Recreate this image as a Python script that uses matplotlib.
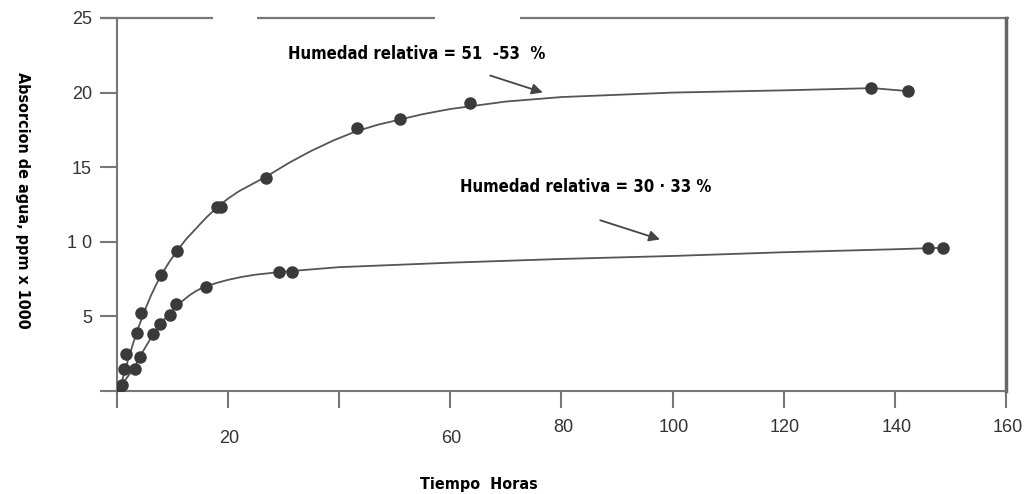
import matplotlib
matplotlib.use("Agg")
import matplotlib.pyplot as plt
from matplotlib.transforms import blended_transform_factory

# measured points, 51-53 % relative humidity
hum_alta_x = [0.9, 1.3, 1.6, 3.6, 4.3, 7.9, 10.8, 18.0, 18.7, 26.8, 43.2, 51.0, 63.6, 135.7, 142.3]
hum_alta_y = [0.4, 1.5, 2.5, 3.9, 5.2, 7.8, 9.4, 12.3, 12.3, 14.3, 17.6, 18.2, 19.3, 20.3, 20.1]
# fitted curve
curva_alta_x = [0, 0.5, 1, 2, 3, 4, 5, 6, 7, 8, 9.5, 11, 12.5, 14, 16, 18, 20, 22, 24.5, 27, 31, 35, 39,
                43, 47, 51, 55, 60, 65, 70, 80, 90, 100, 120, 136, 142.3]
curva_alta_y = [0, 0.3, 0.8, 2.1, 3.3, 4.4, 5.4, 6.3, 7.1, 7.8, 8.7, 9.5, 10.2, 10.8, 11.6, 12.3, 12.9, 13.4,
                13.9, 14.4, 15.3, 16.1, 16.8, 17.4, 17.85, 18.2, 18.55, 18.9, 19.15, 19.4, 19.7, 19.85, 20.0,
                20.15, 20.3, 20.1]

# measured points, 30-33 % relative humidity
hum_baja_x = [0.5, 3.2, 4.1, 6.5, 7.7, 9.5, 10.6, 16.0, 29.2, 31.5, 146.0, 148.6]
hum_baja_y = [0.3, 1.5, 2.3, 3.8, 4.5, 5.1, 5.8, 7.0, 8.0, 8.0, 9.6, 9.6]
curva_baja_x = [0, 1, 2, 3.2, 4.1, 5.3, 6.5, 8, 9, 10, 11, 12, 13, 14, 15, 16, 18, 20, 22.5, 25, 30,
                35, 40, 50, 60, 80, 100, 120, 140, 148.6]
curva_baja_y = [0, 0.5, 1.0, 1.6, 2.3, 3.05, 3.8, 4.6, 5.0, 5.4, 5.8, 6.1, 6.4, 6.65, 6.85, 7.0, 7.25, 7.45,
                7.65, 7.8, 8.0, 8.15, 8.3, 8.45, 8.6, 8.85, 9.05, 9.3, 9.5, 9.6]

y_ticks = [0, 5, 10, 15, 20, 25]
y_labels = ["", "5", "1 0", "15", "20", "25"]
x_ticks = [0, 20, 40, 60, 80, 100, 120, 140, 160]
x_labels = ["", "20", "", "60", "80", "100", "120", "140", "160"]
x_label_drop = [0, 8, 0, 8, 0, 0, 0, 0, 0]  # some labels sit lower in the scan

# top frame is broken in the scan: pieces of the line that are drawn
marco_superior = [(-3.0, 17.3), (25.2, 57.3), (72.6, 160.5)]

texto = dict(family="DejaVu Sans", fontstretch="condensed", fontweight="bold")
numeros = dict(family="Liberation Sans", color="#333333", fontsize=13)

fig = plt.figure(figsize=(10.29, 4.94), dpi=100)
ax = fig.add_axes([0.1137, 0.2085, 0.8639, 0.7551])

ax.plot(curva_alta_x, curva_alta_y, color="#555555", lw=1.3, zorder=2)
ax.plot(curva_baja_x, curva_baja_y, color="#555555", lw=1.3, zorder=2)
ax.plot(hum_alta_x, hum_alta_y, "o", color="#3a3a3a", ms=8, zorder=3)
ax.plot(hum_baja_x, hum_baja_y, "o", color="#3a3a3a", ms=8, zorder=3)

ax.set_xlim(0, 160)
ax.set_ylim(0, 25)

for s in ["left", "bottom"]:
    ax.spines[s].set_color("#777777")
    ax.spines[s].set_linewidth(1.5)
ax.spines["right"].set_color("#666666")
ax.spines["right"].set_linewidth(2.5)
ax.spines["top"].set_visible(False)
for x0, x1 in marco_superior:
    ax.plot([x0, x1], [25, 25], color="#777777", lw=1.6, clip_on=False, solid_capstyle="butt")

ax.set_yticks(y_ticks)
ax.set_yticklabels(y_labels, **numeros)
ax.set_xticks(x_ticks)
ax.set_xticklabels([])
ax.tick_params(direction="out", length=12, width=1.5, color="#777777")
ax.tick_params(axis="y", pad=6)

trans = blended_transform_factory(ax.transData, ax.transAxes)
for xv, lab, drop in zip(x_ticks, x_labels, x_label_drop):
    if lab:
        ax.annotate(lab, (xv, 0), xycoords=trans, xytext=(1, -20 - drop),
                    textcoords="offset points", ha="center", va="top", **numeros)

ax.annotate("Humedad relativa = 51  -53  %", (30.8, 22.6), fontsize=12, va="center", ha="left", **texto)
ax.annotate("Humedad relativa = 30 · 33 %", (61.8, 13.65), fontsize=12, va="center", ha="left", **texto)

flecha = dict(arrowstyle="-|>", color="#444444", lw=1.3, mutation_scale=16)
ax.annotate("", xy=(77.1, 19.95), xytext=(66.7, 21.2), arrowprops=flecha)
ax.annotate("", xy=(98.2, 10.1), xytext=(86.5, 11.5), arrowprops=flecha)

fig.text(0.0215, 0.595, "Absorcion de agua, ppm x 1000", rotation=-90, fontsize=11.5,
         ha="center", va="center", **texto)
fig.text(0.408, 0.005, "Tiempo  Horas", fontsize=11.5, ha="left", va="bottom", **texto)

fig.savefig("out.png", dpi=100, facecolor="white")
